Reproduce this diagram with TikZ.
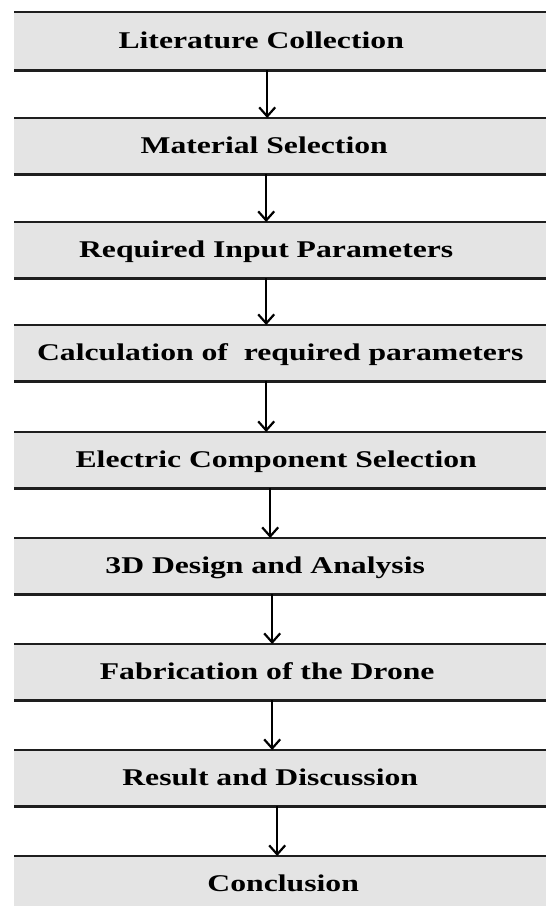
\documentclass[tikz,border=0pt]{standalone}
\usepackage{fontspec}
\usepackage{tikz}
\usetikzlibrary{arrows.meta,positioning}
\newfontfamily\stepfont{Liberation Serif Bold}[FakeStretch=1.32]
\definecolor{boxgray}{HTML}{E4E4E4}
\definecolor{linegray}{HTML}{1E1E1E}

\begin{document}
\begin{tikzpicture}[>=Latex,x=1pt,y=1pt]
\tikzstyle{stepbox}=[fill=boxgray,minimum width=532pt,inner sep=0pt,anchor=north west]
\tikzstyle{steptext}=[font=\stepfont\fontsize{24}{28}\selectfont,anchor=base,inner sep=0pt]
\tikzstyle{rule}=[line width=2.4pt,linegray]
\tikzstyle{flow}=[-{Straight Barb[length=9pt,width=16pt,line width=2.2pt]},line width=2.2pt]
\useasboundingbox (0,0) rectangle (546,-906);
% stages, top to bottom
\foreach \i/\top/\bot/\dx/\txt in {1/12/70/-19/Literature Collection,
    2/118/174/-16/Material Selection,
    3/222/278/-14/Required Input Parameters,
    4/325/381/0/Calculation of\ \ required parameters,
    5/432/488/-4/Electric Component Selection,
    6/538/594/-15/3D Design and Analysis,
    7/644/700/-13/Fabrication of the Drone,
    8/750/806/-10/Result and Discussion,
    9/856/912/3/Conclusion}{
    \node[stepbox,minimum height=\bot-\top] (b\i) at (14,-\top) {};
    \node[steptext] (t\i) at ([xshift=\dx pt,yshift=-7pt]b\i.center) {\txt};
    \draw[rule] (b\i.north west) -- (b\i.north east);
}
\foreach \i in {1,...,8}
    \draw[rule] (b\i.south west) -- (b\i.south east);
% arrows between stages
\foreach \i/\j/\ax in {1/2/-13,2/3/-14,3/4/-14,4/5/-14,5/6/-10,6/7/-8,7/8/-8,8/9/-3}
    \draw[flow] ([xshift=\ax pt]b\i.south) -- ([xshift=\ax pt]b\j.north);
\end{tikzpicture}
\end{document}
